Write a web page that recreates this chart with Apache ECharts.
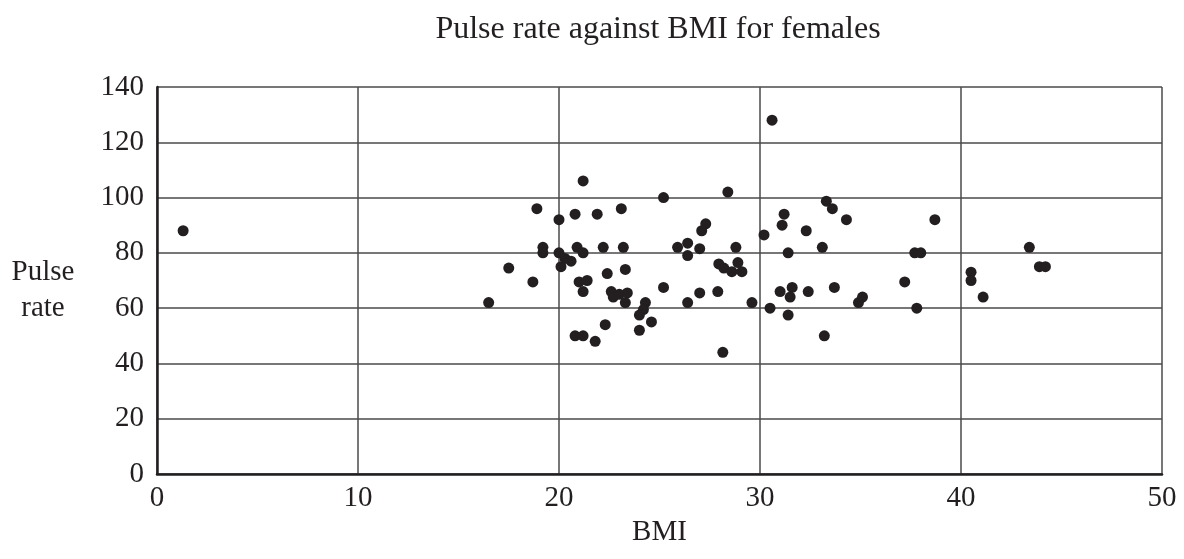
<!DOCTYPE html>
<html>
<head>
<meta charset="utf-8">
<script src="https://cdn.jsdelivr.net/npm/echarts@6/dist/echarts.min.js"></script>
<style>
html,body{margin:0;padding:0;background:#fff;}
#chart{width:1184px;height:559px;}
</style>
</head>
<body>
<div id="chart"></div>
<script>
const titleText = "Pulse rate against BMI for females";
const xAxisName = "BMI";
const yAxisNameLines = ["Pulse", "rate"];

const bmi = [1.3,16.5,17.5,18.7,18.9,19.2,19.2,20.0,20.0,20.1,20.3,20.6,20.8,20.9,21.0,21.2,21.2,21.2,21.4,20.8,
  21.2,21.8,21.9,22.2,22.3,22.4,22.6,22.7,23.0,23.1,23.2,23.3,23.4,23.3,24.3,24.2,24.0,24.0,24.6,25.2,
  25.2,25.9,26.4,26.4,26.4,27.0,27.0,27.1,27.3,27.9,27.95,28.2,28.15,28.4,28.6,28.8,28.9,29.1,29.6,30.2,
  30.5,30.6,31.0,31.1,31.2,31.4,31.4,31.5,31.6,32.3,32.4,33.1,33.2,33.3,33.6,33.7,34.3,34.9,35.1,37.2,
  37.7,38.0,37.8,38.7,40.5,40.5,41.1,43.4,43.9,44.2];
const pulse = [88,62,74.5,69.5,96,82,80,92,80,75,78,77,94,82,69.5,80,106,66,70,50,
  50,48,94,82,54,72.5,66,64,65,96,82,74,65.5,62,62,59.5,57.5,52,55,100,
  67.5,82,83.5,79,62,81.5,65.5,88,90.5,66,76,74.5,44,102,73.2,82,76.5,73.2,62,86.5,
  60,128,66,90,94,80,57.5,64,67.5,88,66,82,50,98.7,96,67.5,92,62,64,69.5,
  80,80,60,92,73,70,64,82,75,75];

const xTicks = {min: 0, max: 50, interval: 10};
const yTicks = {min: 0, max: 140, interval: 20};

const points = bmi.map((x, i) => [x, pulse[i]]);

const chart = echarts.init(document.getElementById('chart'), null, {renderer: 'canvas'});
const font = '"Liberation Serif", "DejaVu Serif", serif';
const txtColor = '#231f20';

chart.setOption({
  backgroundColor: '#ffffff',
  animation: false,
  title: {
    text: titleText,
    left: 653, top: 9,
    textAlign: 'center',
    textStyle: {fontFamily: font, fontSize: 32, fontWeight: 'normal', color: txtColor}
  },
  grid: {left: 157, right: 22, top: 87, bottom: 85, containLabel: false, show: false},
  xAxis: {
    type: 'value',
    min: xTicks.min, max: xTicks.max, interval: xTicks.interval,
    name: xAxisName,
    nameLocation: 'middle',
    nameGap: 28,
    nameTextStyle: {fontFamily: font, fontSize: 29, color: txtColor},
    axisLine: {show: true, onZero: false, lineStyle: {color: '#231f20', width: 2.5}},
    axisTick: {show: false},
    axisLabel: {fontFamily: font, fontSize: 29, color: txtColor, margin: 10},
    splitLine: {show: true, lineStyle: {color: '#4a4a4a', width: 1.5}}
  },
  yAxis: {
    type: 'value',
    min: yTicks.min, max: yTicks.max, interval: yTicks.interval,
    axisLine: {show: true, onZero: false, lineStyle: {color: '#231f20', width: 2.5}},
    axisTick: {show: false},
    axisLabel: {fontFamily: font, fontSize: 29, color: txtColor, margin: 13},
    splitLine: {show: true, lineStyle: {color: '#4a4a4a', width: 1.5}}
  },
  graphic: [{
    type: 'text',
    x: 43, y: 254,
    style: {
      text: yAxisNameLines.join('\n'),
      fontFamily: font, fontSize: 29, lineHeight: 36,
      fill: txtColor, align: 'center', verticalAlign: 'top'
    }
  }],
  series: [{
    type: 'scatter',
    data: points,
    symbol: 'circle',
    symbolSize: 11,
    itemStyle: {color: '#231f20', opacity: 1},
    silent: true
  }]
});
</script>
</body>
</html>
